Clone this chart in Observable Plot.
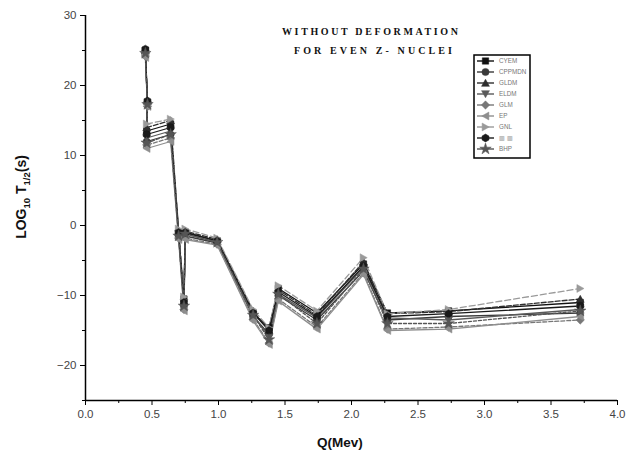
<!DOCTYPE html>
<html>
<head>
<meta charset="utf-8">
<script src="https://cdn.jsdelivr.net/npm/d3@7"></script>
<script src="https://cdn.jsdelivr.net/npm/@observablehq/plot@0.6"></script>
<style>
  html, body { margin: 0; padding: 0; background: #fff; }
  #chart svg { display: block; }
</style>
</head>
<body>
<div id="chart"></div>
<script>
// ---- data ----
const seriesNames = ["CYEM", "CPPMDN", "GLDM", "ELDM", "GLM", "EP", "GNL", "▥ ▥", "BHP"];
const qValues = [0.45, 0.466, 0.46, 0.64, 0.70, 0.74, 0.75, 0.99, 1.26, 1.38, 1.45, 1.74, 2.09, 2.27, 2.73, 3.72];
const cyem   = [25.0, 17.5, 13.5, 14.5, -1.0, -10.5, -1.0, -2.2, -12.5, -14.6, -9.0, -12.5, -5.5, -12.5, -12.2, -11.0];
const cppmdn = [24.5, 17.5, 12.0, 13.0, -1.5, -11.5, -1.5, -2.5, -13.0, -15.5, -10.0, -13.5, -6.5, -13.5, -13.0, -12.5];
const gldm   = [25.0, 17.8, 14.0, 15.0, -0.8, -10.8, -0.8, -2.0, -12.2, -15.0, -9.2, -12.8, -5.2, -12.6, -12.3, -10.5];
const eldm   = [24.5, 17.2, 12.5, 13.5, -1.2, -11.0, -1.2, -2.4, -12.8, -16.0, -9.8, -13.2, -6.0, -13.2, -13.5, -12.0];
const glm    = [24.2, 17.0, 11.5, 12.5, -1.8, -12.0, -1.8, -2.7, -13.4, -16.8, -10.5, -14.5, -6.8, -14.8, -14.5, -13.5];
const ep     = [24.0, 17.0, 11.0, 12.0, -2.0, -12.2, -2.0, -2.8, -13.6, -17.0, -10.8, -14.8, -7.0, -15.0, -14.8, -13.0];
const gnl    = [24.8, 17.6, 14.5, 15.2, -0.5, -10.2, -0.5, -1.8, -12.0, -14.6, -8.6, -12.2, -4.6, -12.6, -12.0, -9.0];
const s8     = [25.2, 17.8, 13.0, 14.0, -1.0, -11.0, -1.0, -2.2, -12.5, -15.0, -9.5, -13.0, -5.8, -13.0, -12.6, -11.5];
const bhp    = [24.6, 17.3, 11.8, 13.0, -1.5, -11.5, -1.2, -2.4, -12.8, -16.3, -9.8, -14.0, -6.2, -14.0, -14.0, -12.2];
const xMajorTicks = [0, 0.5, 1, 1.5, 2, 2.5, 3, 3.5, 4];
const xMinorTicks = [0.25, 0.75, 1.25, 1.75, 2.25, 2.75, 3.25, 3.75];
const yMajorTicks = [-20, -10, 0, 10, 20, 30];
const yMinorTicks = [-25, -15, -5, 5, 15, 25];
const titleLines = ["WITHOUT DEFORMATION", "FOR EVEN Z- NUCLEI"];

// ---- styling ----
const allValues = [cyem, cppmdn, gldm, eldm, glm, ep, gnl, s8, bhp];
const colors = ["#111", "#3a3a3a", "#2e2e2e", "#5a5a5a", "#777", "#8e8e8e", "#9a9a9a", "#1a1a1a", "#555"];
const dashes = [null, null, "5,2", null, "4,2", null, "6,3", null, "3,2"];

function poly(pts) {
  return { draw(ctx, size) {
    const s = Math.sqrt(size) * 0.62;
    ctx.moveTo(pts[0][0] * s, pts[0][1] * s);
    for (let i = 1; i < pts.length; i++) ctx.lineTo(pts[i][0] * s, pts[i][1] * s);
    ctx.closePath();
  }};
}
const triDown = poly([[-1, -0.85], [1, -0.85], [0, 0.95]]);
const triUp = poly([[-1, 0.85], [1, 0.85], [0, -0.95]]);
const triLeft = poly([[0.85, -1], [0.85, 1], [-0.95, 0]]);
const triRight = poly([[-0.85, -1], [-0.85, 1], [0.95, 0]]);
const diamond = poly([[0, -1.05], [1.05, 0], [0, 1.05], [-1.05, 0]]);
const hexagon = poly(d3.range(6).map(i => [Math.cos(Math.PI / 3 * i + Math.PI / 6), Math.sin(Math.PI / 3 * i + Math.PI / 6)]));
const symbols = [d3.symbolSquare, d3.symbolCircle, triUp, triDown, diamond, triLeft, triRight, hexagon, d3.symbolStar];

const table = seriesNames.flatMap((name, i) => qValues.map((q, j) => ({ series: name, q, v: allValues[i][j] })));

const chart = Plot.plot({
  width: 635,
  height: 458,
  marginLeft: 85,
  marginRight: 18,
  marginTop: 15,
  marginBottom: 58,
  style: { fontFamily: "Arial, 'Liberation Sans', sans-serif", fontSize: "11px", background: "#fff", overflow: "visible" },
  x: { domain: [0, 4] },
  y: { domain: [-25, 30] },
  color: { domain: seriesNames, range: colors },
  symbol: { domain: seriesNames, range: symbols },
  marks: [
    Plot.axisX(xMajorTicks, { tickSize: 5, tickPadding: 4, tickFormat: d3.format(".1f"), label: null, fill: "#444", fontSize: 11.5 }),
    Plot.axisX(xMinorTicks, { tickSize: 3, tickFormat: () => "", label: null }),
    Plot.axisY(yMajorTicks, { tickSize: 5, tickPadding: 4, label: null, fill: "#444", fontSize: 11.5 }),
    Plot.axisY(yMinorTicks, { tickSize: 3, tickFormat: () => "", label: null }),
    ...seriesNames.map((name, i) =>
      Plot.line(table.filter(d => d.series === name), {
        x: "q", y: "v", stroke: colors[i], strokeWidth: 1.3, strokeDasharray: dashes[i]
      })
    ),
    Plot.dot(table, { x: "q", y: "v", symbol: "series", fill: "series", stroke: "series", strokeWidth: 0.5, r: 3.6 }),
    Plot.ruleX([0], { y1: -25, y2: 30, stroke: "#000", strokeWidth: 1.5 }),
    Plot.ruleY([-25], { x1: 0, x2: 4, stroke: "#000", strokeWidth: 1.5 })
  ]
});

document.getElementById("chart").appendChild(chart);

const svg = d3.select(chart);

// Title inside plot
const title = svg.append("g").attr("font-family", "'Liberation Serif', 'Times New Roman', serif")
  .attr("font-weight", "bold").attr("font-size", 10).attr("fill", "#111").attr("text-anchor", "start");
title.append("text").attr("x", 282).attr("y", 34.5).attr("textLength", 176).attr("lengthAdjust", "spacing").text(titleLines[0]);
title.append("text").attr("x", 294).attr("y", 53.5).attr("textLength", 158).attr("lengthAdjust", "spacing").text(titleLines[1]);

// Y axis label with subscripts
const yl = svg.append("text")
  .attr("transform", "translate(26,197) rotate(-90)")
  .attr("text-anchor", "middle")
  .attr("font-family", "Arial, 'Liberation Sans', sans-serif")
  .attr("font-weight", "bold").attr("font-size", 14).attr("fill", "#111");
yl.append("tspan").text("LOG");
yl.append("tspan").attr("font-size", 9.5).attr("dy", 4).text("10");
yl.append("tspan").attr("dy", -4).text(" T");
yl.append("tspan").attr("font-size", 9.5).attr("dy", 4).text("1/2");
yl.append("tspan").attr("dy", -4).text("(s)");

// X axis label
svg.append("text").attr("x", 340).attr("y", 447).attr("text-anchor", "middle")
  .attr("font-family", "Arial, 'Liberation Sans', sans-serif")
  .attr("font-weight", "bold").attr("font-size", 13.5).attr("fill", "#111").text("Q(Mev)");

// Legend
const lg = svg.append("g").attr("text-anchor", "start");
lg.append("rect").attr("x", 474).attr("y", 55).attr("width", 56).attr("height", 103)
  .attr("fill", "#fff").attr("stroke", "#000").attr("stroke-width", 1.5);
seriesNames.forEach((name, i) => {
  const cy = 61 + i * 11;
  lg.append("line").attr("x1", 477).attr("x2", 494).attr("y1", cy).attr("y2", cy)
    .attr("stroke", colors[i]).attr("stroke-width", 1.4);
  lg.append("path").attr("d", d3.symbol(symbols[i], 3.6 * 3.6 * Math.PI)())
    .attr("transform", `translate(485.5,${cy})`).attr("fill", colors[i]).attr("stroke", colors[i]).attr("stroke-width", 0.5);
  lg.append("text").attr("x", 499).attr("y", cy + 2.3).attr("font-size", 6.3)
    .attr("font-family", "Arial, 'Liberation Sans', sans-serif").attr("fill", "#777").text(name);
});
</script>
</body>
</html>
